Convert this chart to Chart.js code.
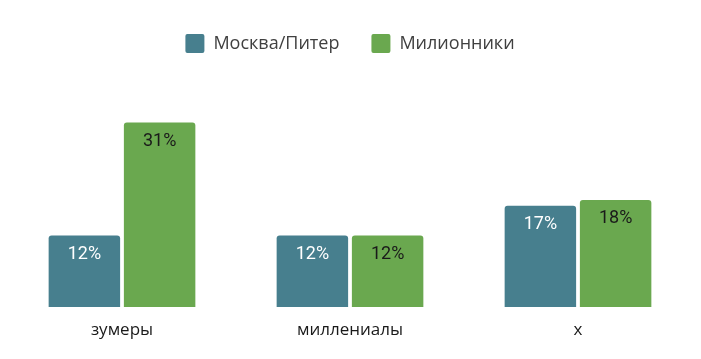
<!DOCTYPE html>
<html>
<head>
<meta charset="utf-8">
<script src="https://cdn.jsdelivr.net/npm/chart.js@4.4.1/dist/chart.umd.min.js"></script>
<style>
  body { margin: 0; background: #fff; }
  #wrap { width: 701px; height: 359px; }
</style>
</head>
<body>
<div id="wrap"><canvas id="mainChart"></canvas></div>
<script>
const groups = ['зумеры', 'миллениалы', 'x'];
const seriesNames = ['Москва/Питер', 'Милионники'];
const moscow = [12, 12, 17];
const millions = [31, 12, 18];
const colors = ['#477f8e', '#6aa84f'];
const labelColors = ['#ffffff', '#1a1a1a'];

// подписи значений внутри столбцов
const barLabels = {
    id: 'barLabels',
    afterDatasetsDraw(chart) {
        const ctx = chart.ctx;
        ctx.save();
        ctx.font = '18px Roboto';
        ctx.textAlign = 'center';
        ctx.textBaseline = 'middle';
        chart.data.datasets.forEach((ds, i) => {
            chart.getDatasetMeta(i).data.forEach((bar, j) => {
                ctx.fillStyle = labelColors[i];
                ctx.fillText(ds.data[j] + '%', bar.x, bar.y + 19);
            });
        });
        ctx.restore();
    }
};

const ctxBar = document.getElementById('mainChart').getContext('2d');
const barChart = new Chart(ctxBar, {
    type: 'bar',
    data: {
        labels: groups,
        datasets: [{
            label: seriesNames[0],
            data: moscow,
            backgroundColor: colors[0],
            borderRadius: 3,
            borderSkipped: 'bottom'
        }, {
            label: seriesNames[1],
            data: millions,
            backgroundColor: colors[1],
            borderRadius: 3,
            borderSkipped: 'bottom'
        }]
    },
    options: {
        responsive: true,
        maintainAspectRatio: false,
        animation: false,
        datasets: {
            bar: { categoryPercentage: 0.66, barPercentage: 0.95 }
        },
        layout: {
            padding: { left: 8, right: 9, top: 2, bottom: 0 }
        },
        scales: {
            x: {
                grid: { display: false },
                border: { display: false },
                ticks: {
                    color: '#1a1a1a',
                    padding: 5,
                    font: { family: 'Open Sans', size: 17 }
                },
                afterFit(scale) { scale.height = 52; }
            },
            y: {
                display: false,
                min: 0,
                max: 41
            }
        },
        plugins: {
            legend: {
                position: 'top',
                labels: {
                    color: '#404040',
                    boxWidth: 19,
                    boxHeight: 19,
                    padding: 32,
                    useBorderRadius: true,
                    borderRadius: 2,
                    font: { family: 'Open Sans', size: 18 }
                }
            },
            tooltip: { enabled: false }
        }
    },
    plugins: [barLabels]
});
</script>
</body>
</html>
